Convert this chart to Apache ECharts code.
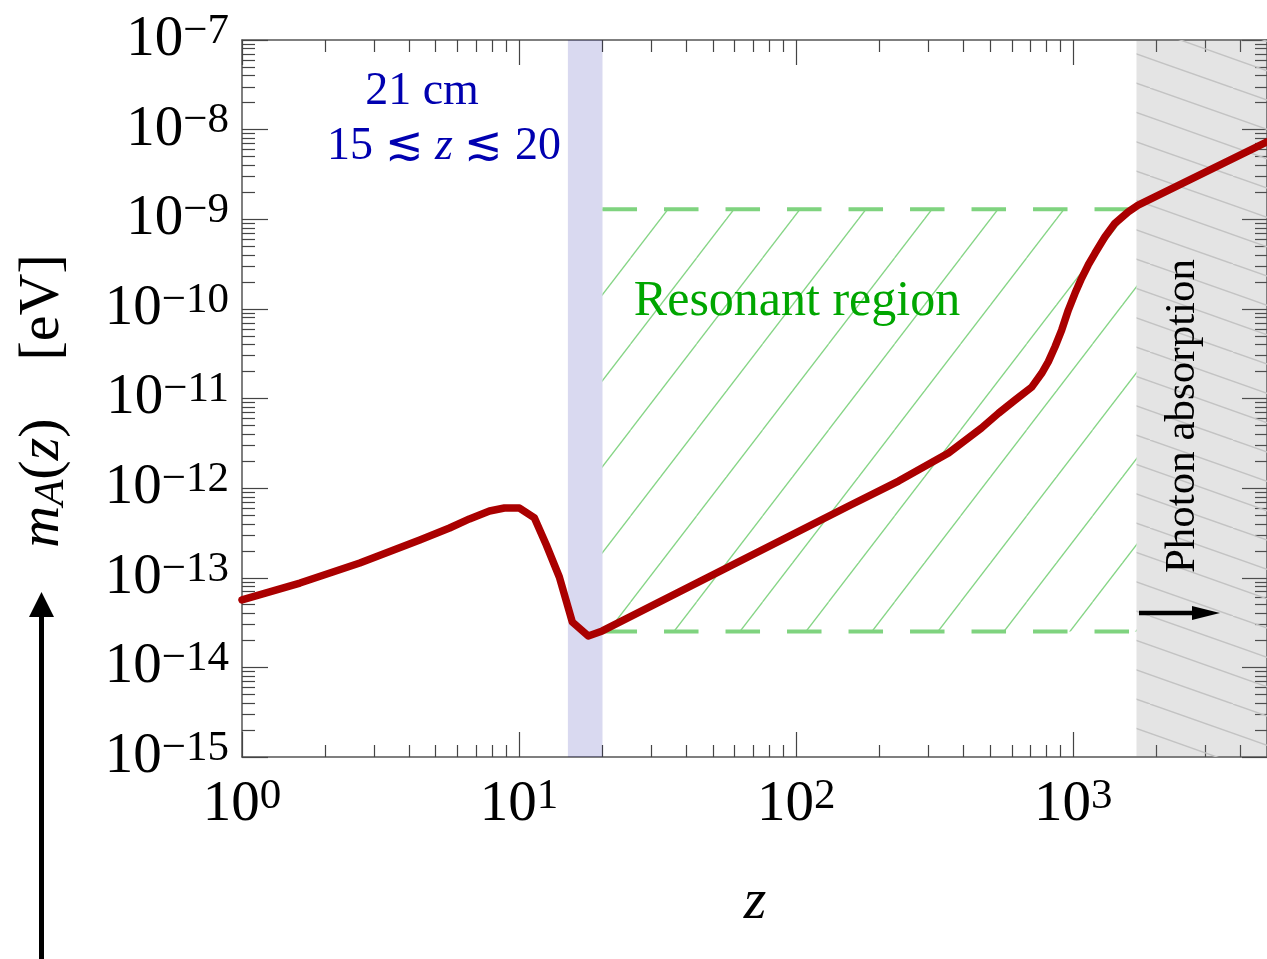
<!DOCTYPE html>
<html><head><meta charset="utf-8">
<script src="https://cdn.jsdelivr.net/npm/echarts@6/dist/echarts.min.js"></script>
<style>html,body{margin:0;padding:0;background:#fff}#c{width:1267px;height:959px}</style>
</head><body><div id="c"></div><script>
// ---- data ----
const curveZ = [1, 1.618, 2.661, 4.38, 5.61, 6.62, 7.82, 8.85, 10.03, 11.36, 12.54, 13.97, 15.56, 17.77, 19.96,
  154.7, 234.2, 354.6, 466.3, 537, 616.6, 707.6, 768.8, 812.8, 859, 907.8, 959.4, 1014, 1071, 1132, 1197, 1301, 1413, 1578, 1714, 5000];
const curveM = [5.65e-14, 8.73e-14, 1.46e-13, 2.64e-13, 3.59e-13, 4.53e-13, 5.56e-13, 6.0e-13, 6.0e-13, 4.65e-13, 2.32e-13, 1.02e-13, 3.21e-14, 2.24e-14, 2.55e-14,
  6.32e-13, 1.2e-12, 2.47e-12, 4.69e-12, 6.84e-12, 9.62e-12, 1.34e-11, 1.91e-11, 2.58e-11, 3.78e-11, 5.81e-11, 9.71e-11, 1.49e-10, 2.19e-10, 3.09e-10, 4.17e-10, 6.38e-10, 9.0e-10, 1.21e-9, 1.44e-9, 7.3e-9];
const band21cmZ = [15, 20];
const resonantZ = [20, 1690];
const resonantM = [2.52e-14, 1.29e-9];
const absorptionZ = [1690, 5000];
const xRange = [1, 5000];
const yRange = [1e-15, 1e-7];
const xMajorTicks = [1, 10, 100, 1000];
const yMajorTicks = [1e-15, 1e-14, 1e-13, 1e-12, 1e-11, 1e-10, 1e-9, 1e-8, 1e-7];
function minors(lo, hi, cap) { const out = []; for (let e = lo; e < hi; e++) for (let k = 2; k <= 9; k++) { const v = k * Math.pow(10, e); if (v <= cap) out.push(v); } return out; }
const xMinorTicks = minors(0, 4, xRange[1]);
const yMinorTicks = minors(-15, -7, yRange[1]);

// ---- hatch patterns ----
function greenPattern() {
  const W = 66, H = 86, c = 0.554;
  const cv = document.createElement('canvas'); cv.width = W; cv.height = H;
  const g = cv.getContext('2d');
  g.strokeStyle = '#86d586'; g.lineWidth = 1.3;
  for (let k = -2; k <= 3; k++) { const x0 = W * (c + k); g.beginPath(); g.moveTo(x0, 0); g.lineTo(x0 - W, H); g.stroke(); }
  return { image: cv, repeat: 'repeat' };
}
function grayPattern() {
  const W = 83, H = 88, c = 0.855;
  const cv = document.createElement('canvas'); cv.width = W; cv.height = H;
  const g = cv.getContext('2d');
  g.strokeStyle = '#d6d6d6'; g.lineWidth = 1.4;
  for (let k = -5; k <= 2; k++) { const x0 = W * (c + k); g.beginPath(); g.moveTo(x0, 0); g.lineTo(x0 + 3 * W, H); g.stroke(); }
  return { image: cv, repeat: 'repeat' };
}

const FF = '"Liberation Serif", "DejaVu Serif", serif';
const supFmt = v => { const e = Math.round(Math.log10(v)); return '{b|10}{s|' + (e < 0 ? '\u2212' : '') + Math.abs(e) + '}'; };
const labRich = {
  b: { fontFamily: FF, fontSize: 57, lineHeight: 60, color: '#000' },
  s: { fontFamily: FF, fontSize: 43, lineHeight: 36, verticalAlign: 'top', color: '#000' }
};
function axis(kind, pos, ticks, len, withLabels, showLine) {
  const r = kind === 'x' ? xRange : yRange;
  const a = {
    type: 'log', logBase: 10, min: r[0], max: r[1], position: pos, gridIndex: 0,
    axisLine: { show: showLine, onZero: false, lineStyle: { color: '#555', width: 1.5 } },
    axisTick: { show: true, inside: true, length: len, customValues: ticks, lineStyle: { color: '#444', width: 1.2 } },
    axisLabel: { show: false },
    splitLine: { show: false }, minorTick: { show: false }, minorSplitLine: { show: false }
  };
  if (withLabels) {
    a.axisLabel = { show: true, customValues: withLabels, formatter: supFmt, rich: labRich,
      margin: kind === 'x' ? 18 : 13, hideOverlap: false, showMinLabel: true, showMaxLabel: true };
  }
  return a;
}

const chart = echarts.init(document.getElementById('c'), null, { renderer: 'canvas' });
const curveData = curveZ.map((z, i) => [z, curveM[i]]);
chart.setOption({
  animation: false,
  backgroundColor: '#fff',
  textStyle: { fontFamily: FF },
  grid: { left: 242, top: 40, width: 1027, height: 717, containLabel: false },
  xAxis: [
    axis('x', 'bottom', xMajorTicks, 25, xMajorTicks, true),
    axis('x', 'bottom', xMinorTicks, 12, null, false),
    axis('x', 'top', xMajorTicks, 25, null, true),
    axis('x', 'top', xMinorTicks, 12, null, false)
  ],
  yAxis: [
    axis('y', 'left', yMajorTicks, 26, yMajorTicks, true),
    axis('y', 'left', yMinorTicks, 13, null, false),
    axis('y', 'right', yMajorTicks, 25, null, true),
    axis('y', 'right', yMinorTicks, 12, null, false)
  ],
  series: [
    { type: 'line', data: [], z: 1, silent: true,
      markArea: { silent: true, itemStyle: { color: greenPattern() },
        data: [[{ coord: [resonantZ[0], resonantM[1]] }, { coord: [resonantZ[1], resonantM[0]] }]] } },
    { type: 'line', data: [], z: 1, silent: true,
      markArea: { silent: true, itemStyle: { color: grayPattern() },
        data: [[{ xAxis: absorptionZ[0] }, { xAxis: absorptionZ[1] }]] } },
    { type: 'line', z: 2, silent: true, symbol: 'none',
      data: [[resonantZ[0], resonantM[1]], [resonantZ[1], resonantM[1]]],
      lineStyle: { color: '#7fd37f', width: 4, type: [34.5, 27] } },
    { type: 'line', z: 2, silent: true, symbol: 'none',
      data: [[resonantZ[0], resonantM[0]], [resonantZ[1], resonantM[0]]],
      lineStyle: { color: '#7fd37f', width: 4, type: [34.5, 27] } },
    { type: 'line', z: 3, silent: true, symbol: 'none', data: curveData,
      lineStyle: { color: '#aa0000', width: 7.5, join: 'round', cap: 'round' } },
    { type: 'line', data: [], z: 4, silent: true,
      markArea: { silent: true, itemStyle: { color: 'rgba(0,0,154,0.15)' },
        data: [[{ xAxis: band21cmZ[0] }, { xAxis: band21cmZ[1] }]] } },
    { type: 'line', data: [], z: 4, silent: true,
      markArea: { silent: true, itemStyle: { color: 'rgba(122,122,122,0.2)' },
        data: [[{ xAxis: absorptionZ[0] }, { xAxis: absorptionZ[1] }]] } }
  ],
  graphic: [
    { type: 'text', x: 422, y: 92, z: 10, style: { text: '21 cm', font: '46px ' + FF, fill: '#0000b0', align: 'center', verticalAlign: 'middle' } },
    { type: 'text', x: 444, y: 147, z: 10, style: { text: '{n|15 \u2272 }{i|z}{n| \u2272 20}', align: 'center', verticalAlign: 'middle',
      rich: { n: { fontFamily: FF, fontSize: 46, fill: '#0000b0' }, i: { fontFamily: FF, fontStyle: 'italic', fontSize: 46, fill: '#0000b0' } } } },
    { type: 'text', x: 797, y: 302, z: 10, style: { text: 'Resonant region', font: '50px ' + FF, fill: '#00a600', align: 'center', verticalAlign: 'middle' } },
    { type: 'text', x: 1183, y: 416, z: 10, rotation: Math.PI / 2, style: { text: 'Photon absorption', font: '43px ' + FF, fill: '#000', align: 'center', verticalAlign: 'middle' } },
    { type: 'text', x: 43, y: 401, z: 10, rotation: Math.PI / 2, style: { text: '{m|m}{a|A}{p|(}{m|z}{p|)    [eV]}', align: 'center', verticalAlign: 'middle',
      rich: { m: { fontFamily: FF, fontStyle: 'italic', fontSize: 58, lineHeight: 60, fill: '#000' },
              a: { fontFamily: FF, fontStyle: 'italic', fontSize: 43, lineHeight: 36, verticalAlign: 'bottom', fill: '#000' },
              p: { fontFamily: FF, fontSize: 58, lineHeight: 60, fill: '#000' } } } },
    { type: 'text', x: 755, y: 903, z: 10, style: { text: 'z', font: 'italic 58px ' + FF, fill: '#000', align: 'center', verticalAlign: 'middle' } },
    { type: 'line', z: 10, shape: { x1: 41.5, y1: 959, x2: 41.5, y2: 612 }, style: { stroke: '#000', lineWidth: 5 } },
    { type: 'polygon', z: 10, shape: { points: [[29, 617], [54, 617], [41.5, 592]] }, style: { fill: '#000' } },
    { type: 'line', z: 10, shape: { x1: 1139, y1: 613, x2: 1198, y2: 613 }, style: { stroke: '#000', lineWidth: 4.5 } },
    { type: 'polygon', z: 10, shape: { points: [[1192, 606], [1192, 620], [1220, 613]] }, style: { fill: '#000' } }
  ]
});
</script></body></html>
